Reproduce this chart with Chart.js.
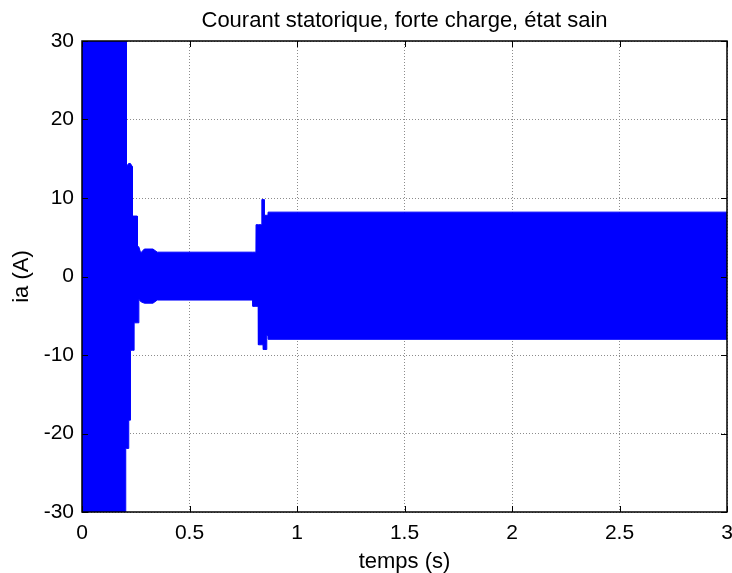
<!DOCTYPE html>
<html>
<head>
<meta charset="utf-8">
<title>Courant statorique</title>
<script src="https://cdn.jsdelivr.net/npm/chart.js@4.4.1/dist/chart.umd.min.js"></script>
<style>
  html, body { margin: 0; padding: 0; background: #fff; }
  #wrap { width: 732px; height: 573px; }
</style>
</head>
<body>
<div id="wrap"><canvas id="chart" width="732" height="573"></canvas></div>
<script>
// envelope of the stator current (s, A)
const timeS = [0, 0.203, 0.2035, 0.206, 0.2065, 0.217, 0.2175, 0.225, 0.2255, 0.234, 0.2345,
               0.242, 0.2425, 0.257, 0.2575, 0.264, 0.2645, 0.273, 0.29, 0.33, 0.35,
               0.794, 0.795, 0.809, 0.8095, 0.820, 0.8205, 0.836, 0.8365, 0.843, 0.8435,
               0.847, 0.8475, 0.859, 0.8595, 0.865, 0.8655, 3];
const upperA = [30, 30, 30, 30, 14.0, 14.4, 14.4, 14.4, 14.4, 14.0, 7.7,
                7.7, 7.7, 7.7, 3.8, 3.8, 3.8, 3.0, 3.5, 3.5, 3.1,
                3.1, 3.1, 3.1, 6.6, 6.6, 6.6, 6.6, 9.8, 9.8, 9.8,
                9.8, 7.8, 7.8, 7.8, 7.8, 8.2, 8.2];
const lowerA = [-30, -30, -21.9, -21.9, -21.9, -21.9, -18.3, -18.3, -9.4, -9.4, -9.4,
                -9.4, -5.9, -5.9, -5.9, -5.9, -2.9, -3.2, -3.4, -3.4, -3.0,
                -3.0, -3.8, -3.8, -3.8, -3.8, -8.7, -8.7, -8.7, -8.7, -9.3,
                -9.3, -9.3, -9.3, -7.5, -7.5, -8.0, -8.0];

const xTicks = [0, 0.5, 1, 1.5, 2, 2.5, 3];
const yTicks = [-30, -20, -10, 0, 10, 20, 30];

const BLUE = '#0000ff';
const FONT = "'Liberation Sans', Arial, sans-serif";

Chart.defaults.font.family = FONT;
Chart.defaults.color = '#000';

function toPoints(ys) {
    return timeS.map((t, i) => ({ x: t, y: ys[i] }));
}

// black box round the axes with MATLAB-style inward ticks
const framePlugin = {
    id: 'frame',
    afterDatasetsDraw(chart) {
        const { ctx, chartArea: a, scales: { x, y } } = chart;
        ctx.save();
        ctx.strokeStyle = '#000';
        ctx.lineWidth = 1;
        ctx.beginPath();
        xTicks.forEach(v => {
            const px = Math.round(x.getPixelForValue(v)) + 0.5;
            ctx.moveTo(px, a.bottom); ctx.lineTo(px, a.bottom - 6);
            ctx.moveTo(px, a.top); ctx.lineTo(px, a.top + 6);
        });
        yTicks.forEach(v => {
            const py = Math.round(y.getPixelForValue(v)) + 0.5;
            ctx.moveTo(a.left, py); ctx.lineTo(a.left + 6, py);
            ctx.moveTo(a.right, py); ctx.lineTo(a.right - 6, py);
        });
        ctx.stroke();
        ctx.lineWidth = 1.5;
        ctx.strokeRect(a.left, a.top, a.right - a.left, a.bottom - a.top);
        ctx.restore();
    }
};

new Chart(document.getElementById('chart'), {
    type: 'line',
    data: {
        datasets: [{
            data: toPoints(upperA),
            borderColor: BLUE,
            backgroundColor: BLUE,
            borderWidth: 1,
            fill: '+1'
        }, {
            data: toPoints(lowerA),
            borderColor: BLUE,
            backgroundColor: BLUE,
            borderWidth: 1,
            fill: false
        }]
    },
    options: {
        responsive: false,
        animation: false,
        events: [],
        elements: { point: { radius: 0 }, line: { tension: 0 } },
        layout: { padding: { left: 0, right: 5, top: 0, bottom: 0 } },
        plugins: {
            legend: { display: false },
            tooltip: { enabled: false },
            title: {
                display: true,
                text: 'Courant statorique, forte charge, état sain',
                fullSize: false,
                color: '#000',
                font: { size: 22, weight: 'normal', lineHeight: 1.2 },
                padding: { top: 8, bottom: 6.6 }
            }
        },
        scales: {
            x: {
                type: 'linear',
                min: 0,
                max: 3,
                afterBuildTicks: s => { s.ticks = xTicks.map(v => ({ value: v })); },
                afterFit: s => { s.height = 61; s.paddingLeft = 0; s.paddingRight = 0; },
                ticks: {
                    font: { size: 21 }, padding: 9, maxRotation: 0, color: '#000',
                    callback: v => String(v)
                },
                grid: { color: '#8c8c8c', drawTicks: false, lineWidth: 1 },
                border: { display: false, dash: [1, 2] },
                title: {
                    display: true,
                    text: 'temps (s)',
                    color: '#000',
                    font: { size: 22, lineHeight: 1 },
                    padding: { top: 0, bottom: 0 }
                }
            },
            y: {
                min: -30,
                max: 30,
                afterBuildTicks: s => { s.ticks = yTicks.map(v => ({ value: v })); },
                afterFit: s => { s.width = 82; s.paddingTop = 0; s.paddingBottom = 0; },
                ticks: {
                    font: { size: 21 }, padding: 8, color: '#000',
                    callback: v => String(v)
                },
                grid: { color: '#8c8c8c', drawTicks: false, lineWidth: 1 },
                border: { display: false, dash: [1, 2] },
                title: {
                    display: true,
                    text: 'ia (A)',
                    color: '#000',
                    font: { size: 22, lineHeight: 1 },
                    padding: { top: 11, bottom: 0 }
                }
            }
        }
    },
    plugins: [framePlugin]
});
</script>
</body>
</html>
